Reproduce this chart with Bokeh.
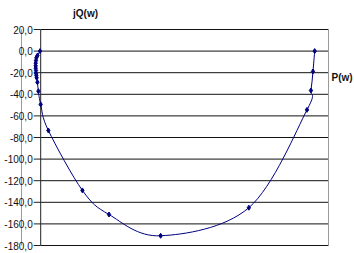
import numpy as np
from bokeh.plotting import figure
from bokeh.models import Range1d
from bokeh.embed import file_html
from bokeh.resources import INLINE
from bokeh.core.properties import value

# ---- data ----
p_w = [-0.007, -0.034, -0.045, -0.049, -0.052, -0.052, -0.052, -0.049, -0.049,
       -0.045, -0.042, -0.034, -0.024, 0.0, 0.08, 0.435, 0.712, 1.25, 2.17,
       2.776, 2.817, 2.838, 2.856]
jq_w = [0.0, -4.1, -6.2, -8.7, -11.2, -13.6, -15.8, -18.0, -20.5,
        -22.6, -24.7, -28.8, -37.1, -49.4, -73.5, -129.0, -151.3, -171.0, -145.0,
        -54.4, -36.5, -18.9, 0.0]
y_ticks = [20, 0, -20, -40, -60, -80, -100, -120, -140, -160, -180]
y_tick_labels = ["20,0", "0,0", "-20,0", "-40,0", "-60,0", "-80,0", "-100,0",
                 "-120,0", "-140,0", "-160,0", "-180,0"]
y_title = "jQ(w)"
x_title = "P(w)"

# ---- layout constants ----
W, H = 354, 253
X_MIN, X_MAX = -0.2, 3.0
Y_MIN, Y_MAX = -180, 20
AREA_L, AREA_R, AREA_T, AREA_B = 21, 328, 29, 245   # plot area in pixels
px_x = (AREA_R - AREA_L) / (X_MAX - X_MIN)
px_y = (AREA_B - AREA_T) / (Y_MAX - Y_MIN)

def sx(px):   # canvas pixel -> P value
    return X_MIN + (px - AREA_L) / px_x

def sy(py):   # canvas pixel -> jQ value
    return Y_MAX - (py - AREA_T) / px_y

x_range = Range1d(sx(0), sx(W))
y_range = Range1d(sy(H), sy(0))

p = figure(width=W, height=H, x_range=x_range, y_range=y_range,
           output_backend="svg", toolbar_location=None,
           x_axis_location=None, y_axis_location=None,
           min_border=0, min_border_left=0, min_border_right=0,
           min_border_top=0, min_border_bottom=0)
p.grid.visible = False
p.outline_line_color = None
p.background_fill_color = "white"
p.border_fill_color = "white"

FONT = value("Liberation Sans")

# gridlines
n = len(y_ticks)
p.segment(x0=[0.0] * n, x1=[X_MAX] * n, y0=y_ticks, y1=y_ticks,
          line_color="#111111", line_width=1)
# plot-area borders
p.segment(x0=[X_MIN, X_MAX], x1=[X_MIN, X_MAX], y0=[Y_MIN, Y_MIN], y1=[Y_MAX, Y_MAX],
          line_color="#9a9a9a", line_width=1)
# value axis at P = 0
p.segment(x0=[0.0], x1=[0.0], y0=[Y_MIN], y1=[Y_MAX], line_color="#222222", line_width=1)
# tick marks
p.ray(x=[0.0] * n, y=y_ticks, length=7, angle=np.pi, length_units="screen",
      line_color="#222222", line_width=1)
# tick labels
p.text(x=[0.0] * n, y=y_ticks, text=y_tick_labels, x_offset=-8,
       text_align="right", text_baseline="middle", text_font=FONT,
       text_font_size="10px", text_color="#111111")

# smoothed curve (Catmull-Rom -> cubic Bezier)
pts = np.column_stack([p_w, jq_w]).astype(float)
m = len(pts)
x0s, y0s, x1s, y1s, cx0s, cy0s, cx1s, cy1s = [], [], [], [], [], [], [], []
for i in range(m - 1):
    a = pts[i - 1] if i > 0 else pts[i]
    b = pts[i]
    c = pts[i + 1]
    d = pts[i + 2] if i + 2 < m else pts[i + 1]
    c0 = b + (c - a) / 6.0
    c1 = c - (d - b) / 6.0
    x0s.append(b[0]); y0s.append(b[1]); x1s.append(c[0]); y1s.append(c[1])
    cx0s.append(c0[0]); cy0s.append(c0[1]); cx1s.append(c1[0]); cy1s.append(c1[1])
p.bezier(x0=x0s, y0=y0s, x1=x1s, y1=y1s, cx0=cx0s, cy0=cy0s, cx1=cx1s, cy1=cy1s,
         line_color="#000080", line_width=1)
p.scatter(p_w, jq_w, marker="diamond", size=5, fill_color="#000080",
          line_color="#000080")

# axis titles
p.text(x=[sx(85)], y=[sy(13)], text=[y_title], text_align="center",
       text_baseline="middle", text_font=FONT, text_font_size="10px",
       text_font_style="bold", text_color="#111111")
p.text(x=[sx(331)], y=[sy(77)], text=[x_title], text_align="left",
       text_baseline="middle", text_font=FONT, text_font_size="10px",
       text_font_style="bold", text_color="#111111")

open("out.html", "w").write(file_html(p, INLINE))
